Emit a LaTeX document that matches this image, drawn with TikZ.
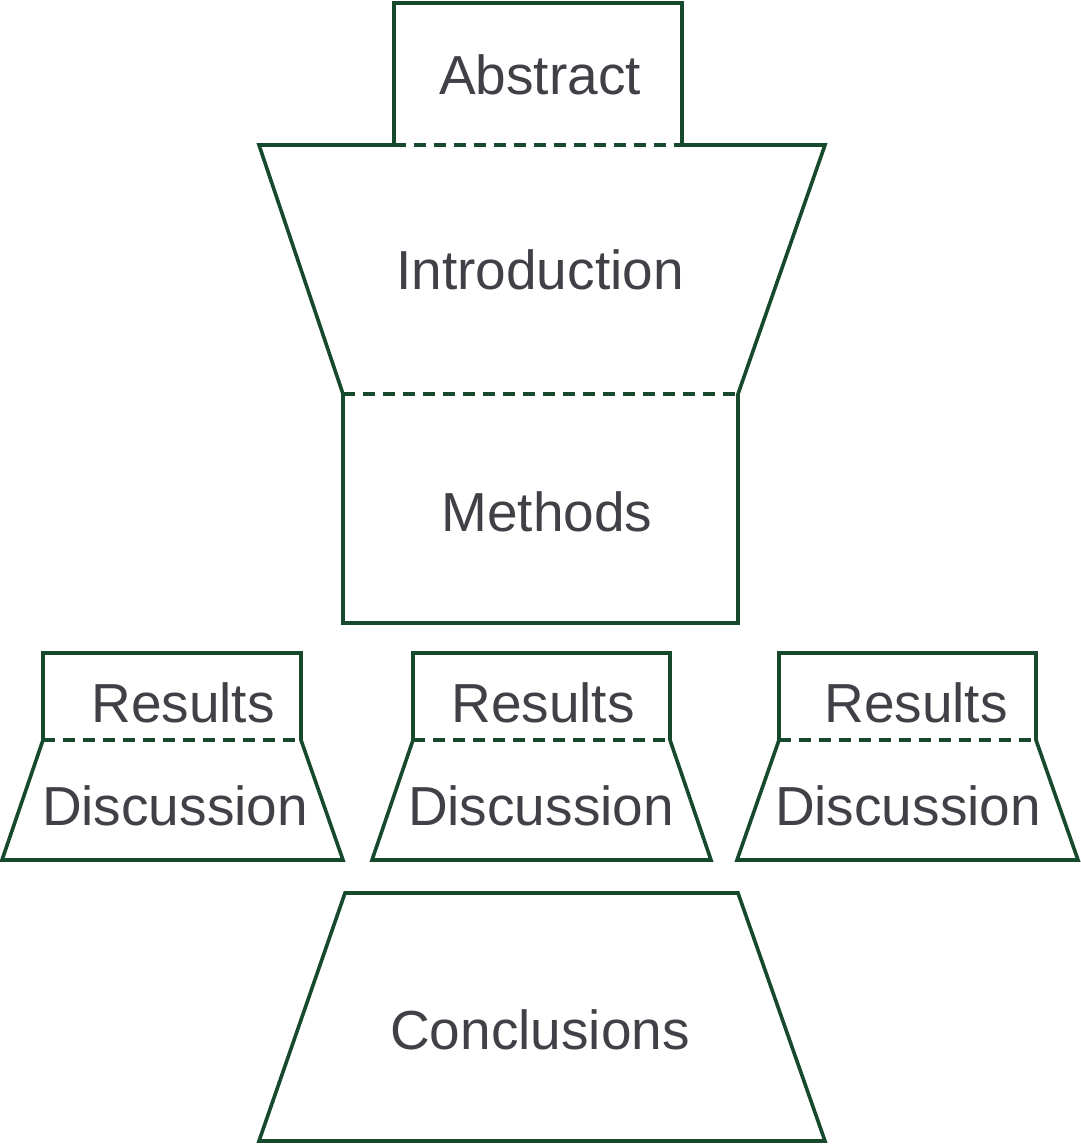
\documentclass[tikz,border=0pt]{standalone}
\usepackage{fontspec}
\setmainfont{Liberation Sans}
\definecolor{edge}{HTML}{174A2C}
\definecolor{ink}{HTML}{404046}
\tikzset{
  outline/.style={draw=edge, line width=3.6pt, line join=miter},
  divider/.style={draw=edge, line width=3.6pt, dash pattern=on 12pt off 8pt},
  label/.style={text=ink, font=\fontsize{55}{66}\selectfont, inner sep=0pt, anchor=center}
}
\begin{document}
\begin{tikzpicture}[x=1pt,y=-1pt]
\useasboundingbox (0,0) rectangle (1080,1144);
% top block: Abstract + Introduction + Methods
\path[outline] (394,145) -- (394,3) -- (682,3) -- (682,145) -- (825,145) -- (738,394) -- (738,623) -- (343,623) -- (343,394) -- (259,145) -- cycle;
\path[divider] (394,145) -- (682,145);
\path[divider] (343,394) -- (738,394);
\node[label] (abstract) at (540,75) {Abstract};
\node[label] (intro) at (540,270) {Introduction};
\node[label] (methods) at (547,512) {Methods};
% Results / Discussion groups
\foreach \n/\a/\b/\c/\d/\rx/\dx in {1/43/301/2/343/183/175, 2/413/670/372/711/543/541, 3/779/1036/737/1078/916/908}{
  \path[outline] (\a,740) -- (\a,653) -- (\b,653) -- (\b,740) -- (\d,860) -- (\c,860) -- cycle;
  \path[divider] (\a,740) -- (\b,740);
  \node[label] (results\n) at (\rx,703) {Results};
  \node[label] (discussion\n) at (\dx,806) {Discussion};
}
% Conclusions
\path[outline] (345,893) -- (738,893) -- (825,1141) -- (259,1141) -- cycle;
\node[label] (conclusions) at (540,1030) {Conclusions};
\end{tikzpicture}
\end{document}
